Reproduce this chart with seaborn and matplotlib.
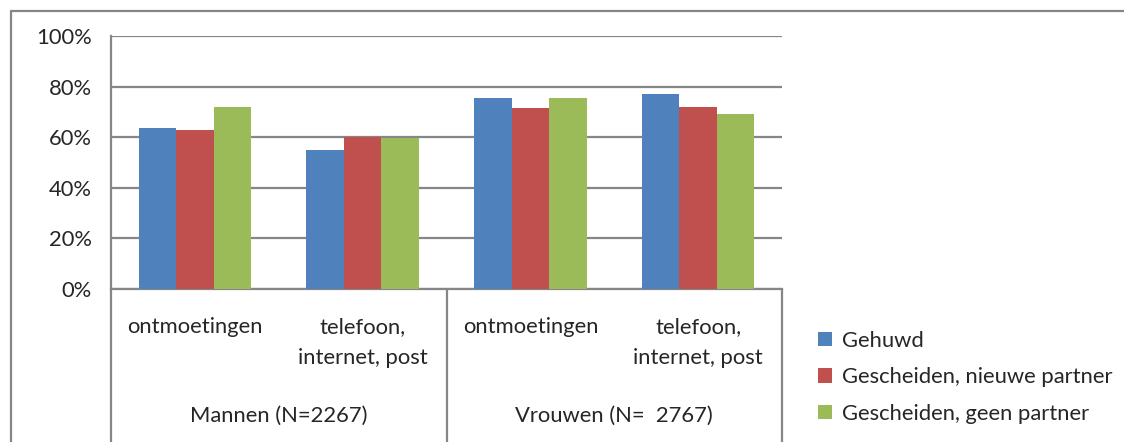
import matplotlib
matplotlib.use("Agg")
import matplotlib.pyplot as plt
import matplotlib.transforms as mtransforms
from matplotlib.patches import Patch
import pandas as pd
import seaborn as sns

# data (percent)
groups = ["Mannen (N=2267)", "Vrouwen (N=  2767)"]
contact = ["ontmoetingen", "telefoon,\ninternet, post"]
series = ["Gehuwd", "Gescheiden, nieuwe partner", "Gescheiden, geen partner"]
gehuwd = [63.5, 55.1, 75.6, 77.1]
nieuwe_partner = [63.0, 60.0, 71.4, 72.1]
geen_partner = [72.1, 59.6, 75.6, 69.2]
colors = ["#4F81BD", "#C0504D", "#9BBB59"]

cats = [g + " | " + c for g in groups for c in contact]
rows = []
for s, vals in zip(series, [gehuwd, nieuwe_partner, geen_partner]):
    for cat, v in zip(cats, vals):
        rows.append({"cat": cat, "serie": s, "waarde": v})
df = pd.DataFrame(rows)

sns.set_style("white")
plt.rcParams["font.family"] = ["Lato", "DejaVu Sans"]
grey = "#868686"
fs = 15.8

fig = plt.figure(figsize=(11.24, 4.42), dpi=100)
ax = fig.add_axes([111 / 1124, 1 - 289 / 442, (782 - 111) / 1124, (289 - 36) / 442])

sns.barplot(data=df, x="cat", y="waarde", hue="serie", order=cats,
            hue_order=series, palette=colors, width=0.67, linewidth=0,
            saturation=1, legend=False, ax=ax, zorder=3)

ax.set_ylim(0, 100)
ax.set_xlim(-0.5, 3.5)
ax.set_yticks(range(0, 101, 20))
ax.set_yticklabels([f"{v}%" for v in range(0, 101, 20)])
ax.grid(axis="y", color=grey, linewidth=1.6, zorder=0)
ax.set_axisbelow(True)
for side in ["top", "right"]:
    ax.spines[side].set_visible(False)
for side in ["left", "bottom"]:
    ax.spines[side].set_color(grey)
    ax.spines[side].set_linewidth(1.6)
ax.set_xlabel("")
ax.set_ylabel("")

ax.set_xticks(range(4))
ax.set_xticklabels(contact * 2, fontsize=fs, va="top", linespacing=1.7)
ax.tick_params(axis="x", length=0, pad=20)
ax.tick_params(axis="y", length=0, pad=14, labelsize=fs)

# category separators below the axis
trans = mtransforms.blended_transform_factory(ax.transData, ax.transAxes)
for xb in [-0.5, 1.5, 3.5]:
    ax.plot([xb, xb], [0, -0.62], transform=trans, color=grey,
            linewidth=1.6, clip_on=False)
for i, g in enumerate(groups):
    ax.text(2 * i + 0.5, -0.5, g, transform=trans, ha="center", va="center",
            fontsize=fs)

# outer chart border
fig.add_artist(plt.Line2D([11 / 1124, 1], [1 - 11 / 442, 1 - 11 / 442],
                          color=grey, linewidth=1.6))
fig.add_artist(plt.Line2D([11 / 1124, 11 / 1124], [0, 1 - 11 / 442],
                          color=grey, linewidth=1.6))

handles = [Patch(facecolor=c, edgecolor="none") for c in colors]
fig.legend(handles, series, loc="upper left",
           bbox_to_anchor=(798 / 1124, 1 - 311 / 442), frameon=False,
           fontsize=fs, handlelength=0.65, handleheight=0.65,
           handletextpad=0.45, labelspacing=0.75)

fig.savefig("out.png", dpi=100)
